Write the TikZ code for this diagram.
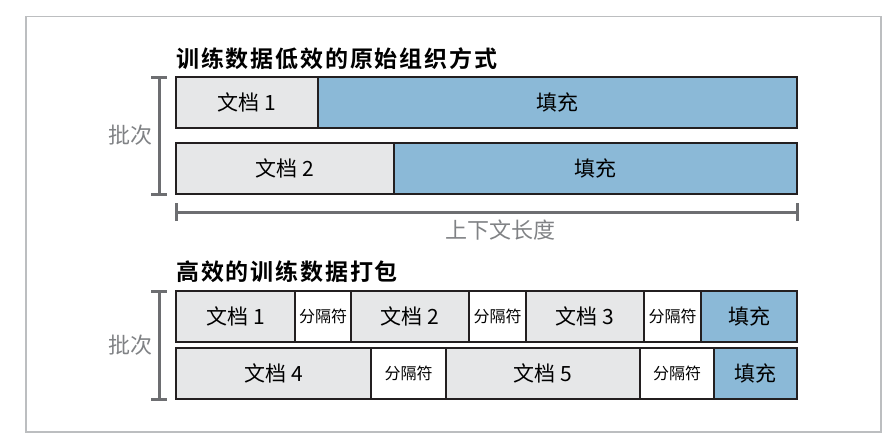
\documentclass[tikz,border=0pt]{standalone}
\usepackage{fontspec}
\setmainfont{Noto Sans CJK SC}[BoldFont={Noto Sans CJK SC Bold}]
\newfontfamily\titlefont{Noto Sans CJK SC Bold}[LetterSpace=8]
\usetikzlibrary{positioning}

\begin{document}
\begin{tikzpicture}[x=1pt, y=-1pt,
    box/.style={draw=boxline, line width=1.4pt, minimum height=51pt, outer sep=0pt, inner sep=0pt},
    doc/.style={box, fill=docgray, font=\fontsize{21}{21}\selectfont},
    pad/.style={box, fill=padblue, font=\fontsize{21}{21}\selectfont},
    sep/.style={box, fill=white, font=\fontsize{16}{16}\selectfont},
    heading/.style={anchor=west, inner sep=0pt, font=\titlefont\fontsize{23}{23}\selectfont},
    side/.style={text=labelgray, font=\fontsize{22}{22}\selectfont},
    brace/.style={draw=bracegray, line width=3pt}]

      % Define colors
      \definecolor{boxline}{HTML}{231F20}
      \definecolor{docgray}{HTML}{E6E7E8}
      \definecolor{padblue}{HTML}{8BB9D7}
      \definecolor{bracegray}{HTML}{6D6E71}
      \definecolor{labelgray}{HTML}{808285}
      \definecolor{framegray}{HTML}{BCBEC0}

      % Frame
      \useasboundingbox (0,0) rectangle (895,440);
      \draw[framegray, line width=1.5pt] (26,16.5) rectangle (881,432);

      % Titles
      \node[heading] (T1) at (176,58.5) {训练数据低效的原始组织方式};
      \node[heading] (T2) at (176,271.5) {高效的训练数据打包};

      % Padded batch
      \node[doc, minimum width=142pt, anchor=west] (A1) at (176,102.5) {文档 1};
      \node[pad, minimum width=479pt, right=0pt of A1] (P1) {填充};
      \node[doc, minimum width=218pt, anchor=west] (A2) at (176,168.5) {文档 2};
      \node[pad, minimum width=403pt, right=0pt of A2] (P2) {填充};

      % Packed batch, first row
      \node[doc, minimum width=119pt, anchor=west] (D1) at (176,316.5) {文档 1};
      \node[sep, minimum width=56pt, right=0pt of D1] (S1) {分隔符};
      \node[doc, minimum width=118pt, right=0pt of S1] (D2) {文档 2};
      \node[sep, minimum width=57pt, right=0pt of D2] (S2) {分隔符};
      \node[doc, minimum width=118pt, right=0pt of S2] (D3) {文档 3};
      \node[sep, minimum width=57pt, right=0pt of D3] (S3) {分隔符};
      \node[pad, minimum width=96pt, right=0pt of S3] (P3) {填充};

      % Packed batch, second row
      \node[doc, minimum width=195pt, anchor=west] (D4) at (176,373.5) {文档 4};
      \node[sep, minimum width=75pt, right=0pt of D4] (S4) {分隔符};
      \node[doc, minimum width=194pt, right=0pt of S4] (D5) {文档 5};
      \node[sep, minimum width=74pt, right=0pt of D5] (S5) {分隔符};
      \node[pad, minimum width=83pt, right=0pt of S5] (P4) {填充};

      % Batch brackets
      \coordinate (B1t) at (159,77);
      \coordinate (B1b) at (159,194);
      \coordinate (B2t) at (159,291);
      \coordinate (B2b) at (159,399);
      \draw[brace] (B1t) -- (B1b);
      \draw[brace] ([xshift=-8pt]B1t) -- ([xshift=8pt]B1t);
      \draw[brace] ([xshift=-8pt]B1b) -- ([xshift=8pt]B1b);
      \draw[brace] (B2t) -- (B2b);
      \draw[brace] ([xshift=-8pt]B2t) -- ([xshift=8pt]B2t);
      \draw[brace] ([xshift=-8pt]B2b) -- ([xshift=8pt]B2b);
      \node[side] (L1) at (130,135) {批次};
      \node[side] (L2) at (130,345) {批次};

      % Context length axis
      \coordinate (X1) at (176,212);
      \coordinate (X2) at (797,212);
      \draw[brace] (X1) -- (X2);
      \draw[brace] ([yshift=-9pt]X1) -- ([yshift=9pt]X1);
      \draw[brace] ([yshift=-9pt]X2) -- ([yshift=9pt]X2);
      \node[side] (L3) at (500,230) {上下文长度};

    \end{tikzpicture}
\end{document}
